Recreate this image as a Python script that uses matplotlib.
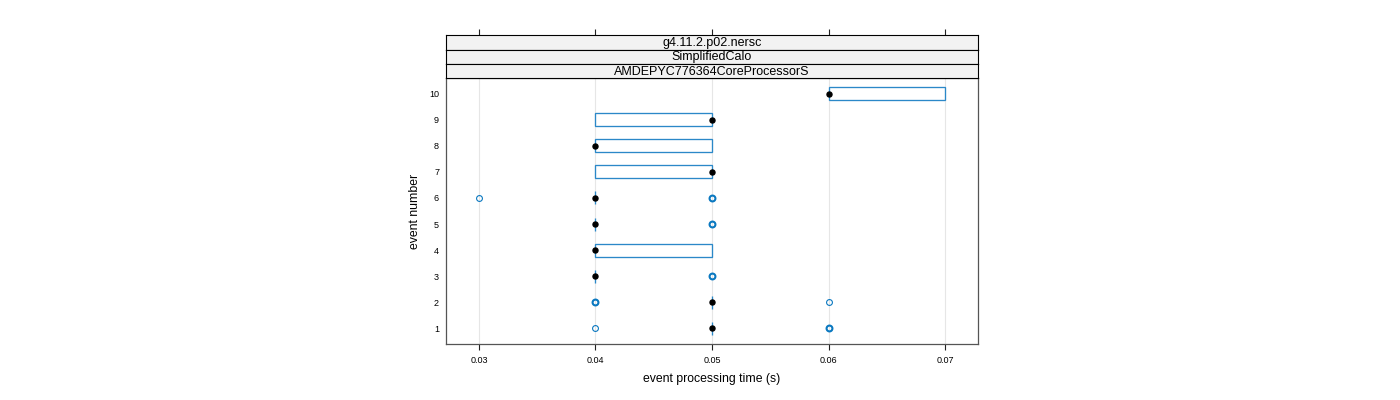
import numpy as np
import matplotlib.pyplot as plt

plt.rcParams['font.family'] = ['Liberation Sans', 'DejaVu Sans']

# per-event box stats (seconds)
events = [1, 2, 3, 4, 5, 6, 7, 8, 9, 10]
q1 = [0.05, 0.05, 0.04, 0.04, 0.04, 0.04, 0.04, 0.04, 0.04, 0.06]
q3 = [0.05, 0.05, 0.04, 0.05, 0.04, 0.04, 0.05, 0.05, 0.05, 0.07]
median = [0.05, 0.05, 0.04, 0.04, 0.04, 0.04, 0.05, 0.04, 0.05, 0.06]
outliers = [
    [0.04, 0.06, 0.06, 0.06],
    [0.04, 0.04, 0.04, 0.06],
    [0.05, 0.05, 0.05],
    [],
    [0.05, 0.05, 0.05],
    [0.03, 0.05, 0.05, 0.05],
    [],
    [],
    [],
    [],
]
xticks = [0.03, 0.04, 0.05, 0.06, 0.07]
strips = ['g4.11.2.p02.nersc', 'SimplifiedCalo', 'AMDEPYC776364CoreProcessorS']

box_col = '#2b88c8'
pt_col = '#0a78c0'
frame_col = '#555555'
xlim = (0.02717, 0.07283)

fig = plt.figure(figsize=(14, 4), dpi=100)
W, H = 1400, 400

def px_axes(x0, y0, x1, y1):
    return fig.add_axes([x0 / W, 1 - y1 / H, (x1 - x0) / W, (y1 - y0) / H])

ax = px_axes(446, 78, 978, 344)
for x in xticks:
    ax.axvline(x, color='#e6e6e6', lw=0.8, zorder=0)

for i, ev in enumerate(events):
    ax.add_patch(plt.Rectangle((q1[i], ev - 0.25), q3[i] - q1[i], 0.5,
                               fill=False, edgecolor=box_col, lw=0.95, zorder=2))
    for o in set(outliers[i]):
        n = outliers[i].count(o)
        ax.plot(o, ev, 'o', mfc='none', mec=pt_col, ms=4.2,
                mew=0.8 if n == 1 else 1.5, zorder=3)
    ax.plot(median[i], ev, 'o', color='black', ms=3.6, zorder=4)

ax.set_xlim(*xlim)
ax.set_ylim(0.385, 10.615)
ax.set_xticks(xticks)
ax.set_xticklabels([f'{x:.2f}' for x in xticks])
ax.set_yticks(events)
ax.tick_params(axis='x', direction='out', length=4.5, width=0.8, labelsize=6.5, pad=4, color='#222222')
ax.tick_params(axis='y', length=0, labelsize=6.5, pad=5)
for s in ax.spines.values():
    s.set_color(frame_col)
    s.set_linewidth(0.9)
ax.set_xlabel('event processing time (s)', fontsize=8.8, labelpad=6)
ax.set_ylabel('event number', fontsize=8.8, labelpad=6)

# strips
bounds = [(35, 49.5), (49.5, 64), (64, 78)]
for (y0, y1), txt in zip(bounds, strips):
    sax = px_axes(446, y0, 978, y1)
    sax.set_facecolor('#f2f2f2')
    sax.set_xlim(*xlim)
    sax.set_yticks([])
    sax.set_xticks([])
    for s in sax.spines.values():
        s.set_color('black')
        s.set_linewidth(0.8)
    sax.text(0.5, 0.45, txt, ha='center', va='center', fontsize=9, transform=sax.transAxes)
    if txt == strips[0]:
        sax.set_xticks(xticks)
        sax.tick_params(axis='x', top=True, bottom=False, labeltop=False, labelbottom=False,
                        direction='out', length=4.5, width=0.8, color='#222222')

fig.savefig('out.png', dpi=100)
